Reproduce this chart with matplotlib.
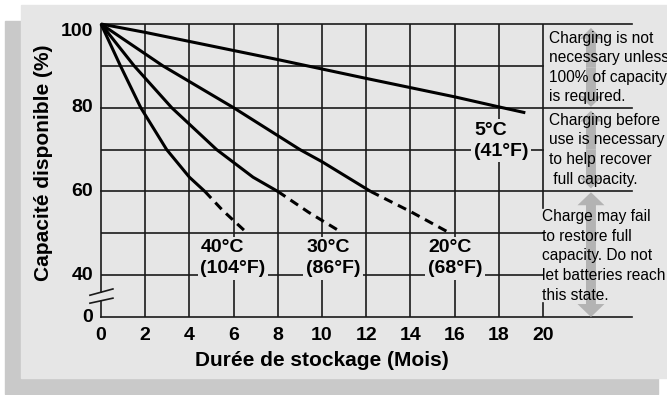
import matplotlib
matplotlib.use('Agg')
import matplotlib.pyplot as plt
from matplotlib import font_manager
from matplotlib.patches import Rectangle, FancyArrow

# Courbes (mois, capacité %)
mois_5c = [0, 2, 8, 12, 16, 18, 19.2]
cap_5c = [100, 98, 91.5, 87, 82.6, 80.2, 78.8]

mois_20c = [0, 2.8, 6, 9, 10, 12.2]
cap_20c = [100, 90, 80, 70, 67.1, 60]
mois_20c_tir = [12.2, 14, 15.7]
cap_20c_tir = [60, 55.2, 50.3]

mois_30c = [0, 1.5, 3.2, 5.23, 6.88, 8.0]
cap_30c = [100, 90, 80, 70, 63.4, 60]
mois_30c_tir = [8.0, 9.4, 10.8]
cap_30c_tir = [60, 55, 50.5]

mois_40c = [0, 0.88, 1.8, 2.97, 4.0, 4.7]
cap_40c = [100, 90, 80, 70, 63.4, 60]
mois_40c_tir = [4.7, 5.5, 6.5]
cap_40c_tir = [60, 55.5, 50.6]

# étiquettes des courbes
etiquettes = ['40°C\n(104°F)', '30°C\n(86°F)', '20°C\n(68°F)', '5°C\n(41°F)']
etiq_x = [4.5, 9.28, 14.8, 16.88]
etiq_y = [44.05, 44.05, 44.05, 72.1]

x_ticks = list(range(0, 21, 2))
y_ticks = [30, 40, 60, 80, 100]
y_tick_labels = ['0', '40', '60', '80', '100']

bloc1 = ['Charging is not', 'necessary unless', '100% of capacity', 'is required.']
bloc2 = ['Charging before', 'use is necessary', 'to help recover', ' full capacity.']
bloc3 = ['Charge may fail', 'to restore full', 'capacity. Do not', 'let batteries reach', 'this state.']

PANEL = '#e6e6e6'
OMBRE = '#c9c9c9'
GRILLE = '#1a1a1a'
FLECHE = '#b3b3b3'

noms = {f.name for f in font_manager.fontManager.ttflist}
if 'Liberation Sans Narrow' in noms:
    police_etroite, taille_etroite = 'Liberation Sans Narrow', 13.5
else:
    police_etroite, taille_etroite = 'Liberation Sans', 11.2

plt.rcParams['font.family'] = ['Liberation Sans', 'DejaVu Sans']

fig = plt.figure(figsize=(6.67, 3.95), dpi=100)
fig.patch.set_facecolor('white')
fig.add_artist(Rectangle((5 / 667, 1 / 395), 653 / 667, 373 / 395,
                         transform=fig.transFigure, color=OMBRE, zorder=-10))
fig.add_artist(Rectangle((21 / 667, 17 / 395), 646 / 667, 373 / 395,
                         transform=fig.transFigure, color=PANEL, zorder=-9))

ax = fig.add_axes([101 / 667, 78 / 395, 531 / 667, 293 / 395])
ax.set_zorder(1)
ax.set_xlim(0, 531 / 22.1)
ax.set_ylim(30, 100)
ax.axis('off')

# Grille
for m in x_ticks:
    if m == 0:
        ax.plot([0, 0], [100, 35.9], color=GRILLE, lw=1.2, zorder=1, clip_on=False)
        ax.plot([0, 0], [33.9, 30], color=GRILLE, lw=1.2, zorder=1, clip_on=False)
    elif m == 20:
        ax.plot([20, 20], [100, 56], color=GRILLE, lw=1.2, zorder=1)
        ax.plot([20, 20], [33.3, 30], color=GRILLE, lw=1.2, zorder=1)
    else:
        ax.plot([m, m], [30, 100], color=GRILLE, lw=1.2, zorder=1)
for v in [100, 80, 60, 30]:
    ax.plot([0, 531 / 22.1], [v, v], color=GRILLE, lw=1.2, zorder=1, clip_on=False)
for v in [90, 70, 50, 40]:
    ax.plot([0, 20], [v, v], color=GRILLE, lw=1.2, zorder=1)

# symbole de coupure de l'axe
ax.plot([-0.5, 0.54], [35.2, 36.7], color=GRILLE, lw=1.2, clip_on=False)
ax.plot([-0.5, 0.54], [33.3, 34.5], color=GRILLE, lw=1.2, clip_on=False)

# Courbes
for mx, cy in [(mois_5c, cap_5c), (mois_20c, cap_20c), (mois_30c, cap_30c), (mois_40c, cap_40c)]:
    ax.plot(mx, cy, color='black', lw=2.2, zorder=3, solid_capstyle='butt', clip_on=False)
for mx, cy in [(mois_20c_tir, cap_20c_tir), (mois_30c_tir, cap_30c_tir), (mois_40c_tir, cap_40c_tir)]:
    ax.plot(mx, cy, color='black', lw=2.2, zorder=3, dashes=(3, 2), clip_on=False)

for t, x, y in zip(etiquettes, etiq_x, etiq_y):
    ax.text(x, y, t, ha='left', va='center', fontsize=14, fontweight='bold',
            linespacing=1.3, zorder=4,
            bbox=dict(facecolor=PANEL, edgecolor='none', pad=2))

# Graduations
for v, lab in zip(y_ticks, y_tick_labels):
    y = 98.3 if v == 100 else v
    ax.text(-0.36, y, lab, ha='right', va='center', fontsize=14, fontweight='bold')
for m in x_ticks:
    ax.text(m, 25.5, str(m), ha='center', va='center', fontsize=14, fontweight='bold')

ax.text(10, 19.6, 'Durée de stockage (Mois)', ha='center', va='center',
        fontsize=15, fontweight='bold')
ax.text(-2.58, 66.9, 'Capacité disponible (%)', ha='center', va='center',
        rotation=90, fontsize=15, fontweight='bold')

# Flèches grises
def fleche(x, y0, y1, hw, hl):
    mid = (y0 + y1) / 2
    for a, b in [(mid, y1), (mid, y0)]:
        ax.add_patch(FancyArrow(x, a, 0, b - a, width=0.45, head_width=hw, head_length=hl,
                                length_includes_head=True, color=FLECHE, lw=0,
                                zorder=2, clip_on=False))

fleche(22.17, 80.2, 99.05, 1.0, 2.6)
fleche(22.17, 60.7, 79.3, 1.0, 2.6)
fleche(22.17, 30.0, 59.8, 1.22, 3.1)

# Textes à droite
pas = 19.7 / 4.2
for lignes, x, y_mid in [(bloc1, 20.27, 89.6), (bloc2, 20.27, 70.0), (bloc3, 19.95, 44.6)]:
    n = len(lignes)
    for i, l in enumerate(lignes):
        y = y_mid + (n - 1) / 2 * pas - i * pas
        ax.text(x, y, l, ha='left', va='center', fontsize=taille_etroite,
                family=police_etroite, zorder=5, clip_on=False)

fig.savefig('out.png', dpi=100, facecolor='white')
